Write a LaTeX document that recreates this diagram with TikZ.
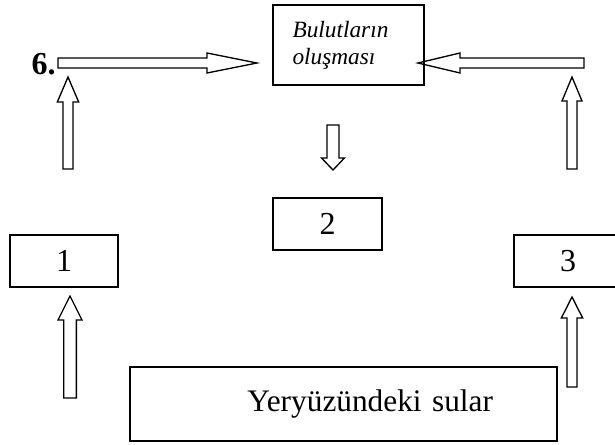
\documentclass[tikz,border=0pt]{standalone}
\usepackage{fontspec}
\setmainfont{Liberation Serif}
\usetikzlibrary{calc}
\tikzset{
  box/.style={rectangle, draw=black, line width=1pt, inner sep=0pt,
              font=\fontsize{24}{28}\selectfont},
  hollow/.style={draw=black, line width=1pt, line join=miter},
}
% hollow block arrow: tail, tip, shaft half width, head half width, head length
\newcommand{\hollowarrow}[5]{%
  \coordinate (hb) at ($(#2)!#5!(#1)$);
  \draw[hollow] ($(#1)!#3!90:(#2)$) -- ($(hb)!#3!-90:(#1)$) -- ($(hb)!#4!-90:(#1)$) -- (#2)
    -- ($(hb)!#4!90:(#1)$) -- ($(hb)!#3!90:(#1)$) -- ($(#1)!#3!-90:(#2)$) -- cycle;
}

\begin{document}
\begin{tikzpicture}[x=0.75pt, y=-0.75pt]
\useasboundingbox (0,0) rectangle (615,445);

% boxes
\node[box, minimum width=113.25pt, minimum height=60pt, text width=84pt, inner xsep=14.6pt,
      align=left, font=\fontsize{17.5}{20.25}\selectfont\itshape] (clouds) at (348.5,45) {Bulutların\\oluşması};
\node[box, minimum width=81.75pt, minimum height=39pt] (two) at (327.5,224) {2};
\node[box, minimum width=81pt, minimum height=39pt] (one) at (64,261) {1};
\node[box, minimum width=81pt, minimum height=39pt] (three) at (568,261) {3};
\node[box, minimum width=320.25pt, minimum height=55.5pt, text width=320.25pt, align=left,
      font=\fontsize{23.5}{27}\selectfont] (water) at (343.5,404) {\hspace*{88pt}Yeryüzündeki sular};
\node[anchor=base east, inner sep=0pt, font=\fontsize{24}{28}\selectfont\bfseries] (six) at (56,75) {6.};

% arrow ends
\coordinate (h1tail) at (58,63);   \coordinate (h1tip) at (257,63);
\coordinate (h2tail) at (584,63);  \coordinate (h2tip) at (418,63);
\coordinate (v1tail) at (68,169);  \coordinate (v1tip) at (68,77);
\coordinate (v2tail) at (572,169); \coordinate (v2tip) at (572,77);
\coordinate (dtail) at (333,125);  \coordinate (dtip) at (333,170);
\coordinate (v3tail) at (70,398);  \coordinate (v3tip) at (70,296);
\coordinate (v4tail) at (572,387); \coordinate (v4tip) at (572,297);

% arrows
\hollowarrow{h1tail}{h1tip}{3.75pt}{7.5pt}{37.5pt}
\hollowarrow{h2tail}{h2tip}{3.75pt}{7.5pt}{31.5pt}
\hollowarrow{v1tail}{v1tip}{3.75pt}{8pt}{18.75pt}
\hollowarrow{v2tail}{v2tip}{3.75pt}{7.5pt}{18pt}
\hollowarrow{dtail}{dtip}{4.5pt}{8.6pt}{9pt}
\hollowarrow{v3tail}{v3tip}{4.75pt}{9pt}{18pt}
\hollowarrow{v4tail}{v4tip}{3.75pt}{8pt}{15.75pt}
\end{tikzpicture}
\end{document}
